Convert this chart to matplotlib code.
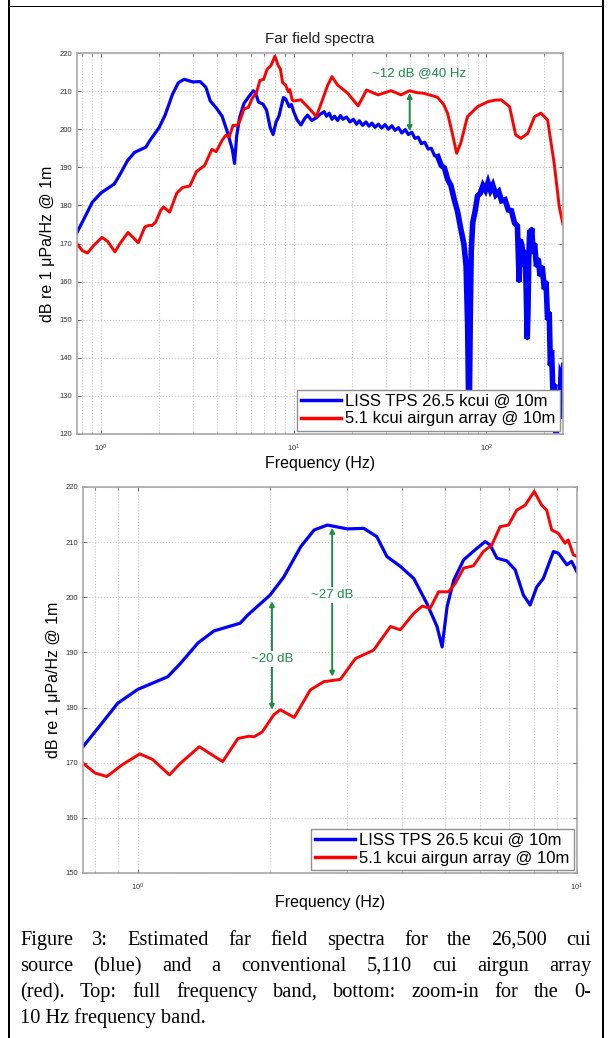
import matplotlib

matplotlib.use("Agg")
import matplotlib.pyplot as plt
from matplotlib.patches import Rectangle
from matplotlib.ticker import LogLocator, LogFormatterSciNotation, NullFormatter, FixedLocator

# spectra (Hz, dB re 1 uPa/Hz @ 1m)
blue_freq = [
    0.75, 0.81, 0.9, 1.0, 1.07, 1.17, 1.25, 1.37, 1.49, 1.63, 1.71, 1.78,
    2.0, 2.15, 2.35, 2.52, 2.7, 3.0, 3.27, 3.5, 3.69, 3.96, 4.25, 4.55,
    4.8, 4.93, 5.06, 5.24, 5.52, 5.92, 6.18, 6.34, 6.57, 6.92, 7.23, 7.55,
    7.82, 8.1, 8.38, 8.84, 9.07, 9.48, 9.72, 10.0,
    10.4, 10.9, 11.4, 11.8, 12.4, 13.1, 13.7, 14.4, 14.8, 15.3, 15.8, 16.3,
    16.9, 17.5, 18.0, 18.8, 19.6, 20.4, 21.2, 21.9, 22.8, 23.7, 24.6, 25.5,
    26.4, 27.5, 28.6, 29.8, 31.0, 32.3, 33.6, 35.0, 36.4, 37.9, 39.4, 41.0,
    42.6, 44.3, 46.0, 47.9, 49.8, 51.8, 53.9, 56.0, 58.3, 60.6, 63.0, 65.5,
    68.1, 70.8, 73.6, 76.5, 78.5, 80.0, 80.8, 81.2, 81.8, 82.6, 83.5, 85.0,
    87.5, 90.0, 93.0, 96.0, 99.0, 102.0, 105.0, 108.0, 112.0, 116.0, 120.0,
    125.0, 130.0, 135.0, 140.0, 145.0, 148.0, 150.0, 153.0, 157.0, 159.0,
    161.0, 163.0, 164.5, 166.0, 168.0, 170.0, 172.0, 175.0, 178.0, 182.0,
    186.0, 190.0, 195.0, 200.0, 204.0, 208.0, 212.0, 215.0, 218.0, 222.0,
    226.0, 230.0, 236.0, 240.0, 244.0, 248.0, 252.0,
]
blue_db = [
    172.9, 176.2, 180.8, 183.3, 184.3, 185.6, 188.0, 191.7, 193.9, 194.8, 195.3, 196.8,
    200.4, 203.7, 209.2, 212.2, 213.1, 212.4, 212.5, 211.0, 207.4, 205.6, 203.4, 198.9,
    194.7, 191.0, 198.3, 203.1, 206.8, 208.9, 210.1, 209.5, 207.1, 206.6, 205.0, 200.4,
    198.6, 201.9, 203.4, 208.3, 208.0, 205.9, 206.5, 204.6,
    202.5, 201.1, 202.8, 203.7, 202.3, 203.0, 203.9, 204.6, 203.4, 204.2, 202.6, 203.4,
    202.3, 203.6, 202.6, 203.2, 201.9, 202.6, 201.3, 202.2, 201.0, 201.9, 200.8, 201.6,
    200.5, 201.3, 200.3, 201.2, 200.0, 200.9, 199.7, 200.4, 199.0, 199.9, 198.6, 199.2,
    197.6, 197.9, 196.2, 196.6, 194.8, 195.0, 193.0, 192.8, 190.5, 189.8, 186.8, 185.2,
    181.6, 178.5, 174.0, 169.8, 164.0, 148.0, 130.0, 122.0, 132.0, 152.0, 168.0, 175.5,
    178.6, 182.5, 183.2, 185.2, 184.0, 186.0, 184.0, 185.3, 182.8, 183.6, 181.2,
    181.5, 178.8, 178.6, 175.4, 174.6, 160.0, 171.0, 169.5, 164.0, 168.0,
    158.0, 145.0, 152.0, 166.0, 173.5, 171.0, 174.0, 167.5, 170.0, 164.0,
    166.0, 161.5, 164.0, 158.0, 160.0, 150.0, 152.0, 138.0, 142.0, 130.0,
    133.0, 119.0, 128.0, 124.0, 135.0, 134.0, 138.0,
]

red_freq = [
    0.75, 0.8, 0.85, 0.92, 1.01, 1.08, 1.18, 1.25, 1.38, 1.56, 1.69, 1.79,
    1.84, 1.92, 2.04, 2.11, 2.27, 2.47, 2.65, 2.89, 3.13, 3.44, 3.76, 3.96,
    4.25, 4.44, 4.63, 4.84, 5.1, 5.28, 5.52, 5.81, 6.12, 6.4, 6.68, 6.98,
    7.29, 7.62, 7.99, 8.31, 8.53, 8.76, 9.07, 9.39, 9.55, 9.81, 10.0,
    10.9, 11.8, 12.5, 13.1, 14.1, 15.0, 15.8, 16.9, 19.1, 21.6, 23.9, 27.4,
    32.0, 36.1, 39.9, 43.5, 47.6, 55.7, 60.0, 62.9, 66.6, 70.1, 73.6, 79.8,
    89.9, 101.7, 110.0, 119.5, 132.0, 142.0, 151.0, 164.0, 178.0, 192.0,
    208.0, 225.0, 239.0, 250.0,
]
red_db = [
    169.9, 168.1, 167.5, 169.6, 171.6, 170.6, 167.8, 169.9, 172.9, 170.2, 174.4, 174.8,
    174.7, 175.6, 178.7, 179.6, 178.2, 183.2, 184.7, 185.1, 188.9, 190.4, 194.7, 194.1,
    197.1, 198.4, 198.0, 201.0, 201.0, 202.5, 205.3, 205.7, 208.3, 209.5, 212.8, 213.1,
    215.8, 216.7, 219.2, 216.7, 215.8, 212.2, 211.6, 209.8, 210.4, 207.7, 207.4,
    207.7, 205.9, 204.5, 203.3, 207.7, 211.5, 213.8, 211.6, 209.4, 206.1, 210.3, 209.0,
    210.1, 209.0, 210.1, 209.6, 209.4, 208.4, 206.5, 204.2, 198.9, 193.7, 196.3, 203.3,
    205.9, 207.2, 207.6, 207.7, 205.9, 198.5, 197.6, 198.9, 203.3, 204.2,
    202.4, 191.0, 179.7, 175.0,
]

series_labels = ["LISS TPS 26.5 kcui @ 10m", "5.1 kcui airgun array @ 10m"]

# (freq, top dB, bottom dB, text dB, label)
top_arrows = [(40.0, 209.5, 199.5, None, "~12 dB @40 Hz")]
bottom_arrows = [
    (2.02, 199.3, 179.6, 188.8, "~20 dB"),
    (2.77, 212.6, 185.6, 200.4, "~27 dB"),
]

caption_lines = [
    "Figure 3: Estimated far field spectra for the 26,500 cui",
    "source (blue) and a conventional 5,110 cui airgun array",
    "(red). Top: full frequency band, bottom: zoom-in for the 0-",
    "10 Hz frequency band.",
]

GREEN = "#1f8c48"
W, H = 610, 1038

plt.rcParams["font.family"] = ["Liberation Sans", "DejaVu Sans"]


def style_axes(ax, xlim, ylim, yticks):
    ax.set_xscale("log")
    ax.set_xlim(*xlim)
    ax.set_ylim(*ylim)
    ax.yaxis.set_major_locator(FixedLocator(yticks))
    ax.xaxis.set_major_locator(LogLocator(base=10))
    ax.xaxis.set_major_formatter(LogFormatterSciNotation())
    ax.xaxis.set_minor_locator(LogLocator(base=10, subs=range(2, 10)))
    ax.xaxis.set_minor_formatter(NullFormatter())
    ax.tick_params(which="both", direction="in", top=True, right=True,
                   colors="#555555", labelcolor="#333333", labelsize=5.5)
    ax.tick_params(which="major", length=3, width=0.6)
    ax.tick_params(which="minor", length=1.8, width=0.5)
    ax.tick_params(axis="x", pad=6)
    for s in ax.spines.values():
        s.set_color("#a8a8a8")
        s.set_linewidth(1.2)
    ax.grid(True, which="major", axis="both", color="#c4c4c4", linestyle=":", linewidth=0.8)
    ax.grid(True, which="minor", axis="x", color="#c4c4c4", linestyle=":", linewidth=0.8)
    ax.set_xlabel("Frequency (Hz)", fontsize=11.5, labelpad=2)
    ax.set_ylabel("dB re 1 μPa/Hz @ 1m", fontsize=11.5, labelpad=3)


def draw_spectra(ax, noisy_from=None):
    ax.plot(blue_freq, blue_db, color="#0000ff", lw=2.3, label=series_labels[0])
    if noisy_from is not None:
        # the high-frequency part of the blue trace is a thick noisy band
        idx = [i for i, f in enumerate(blue_freq) if f >= noisy_from]
        ax.plot([blue_freq[i] for i in idx], [blue_db[i] for i in idx],
                color="#0000ff", lw=4.0, solid_joinstyle="miter")
    ax.plot(red_freq, red_db, color="#ff0000", lw=2.1, label=series_labels[1])
    leg = ax.legend(loc="lower right", fontsize=12, fancybox=False, framealpha=1,
                    edgecolor="#909090", borderaxespad=0.2, handlelength=2.4,
                    handletextpad=0.25, borderpad=0.25, labelspacing=0.15)
    leg.get_frame().set_linewidth(1.0)
    for line in leg.get_lines():
        line.set_linewidth(2.5)


def draw_arrows(ax, arrows, fs):
    for f, y0, y1, ytxt, label in arrows:
        ax.annotate("", xy=(f, y0), xytext=(f, y1),
                    arrowprops=dict(arrowstyle="<|-|>", color=GREEN, lw=1.4,
                                    mutation_scale=7, shrinkA=0, shrinkB=0))
        if ytxt is not None:
            ax.text(f, ytxt, label, color=GREEN, fontsize=fs, ha="center", va="center",
                    bbox=dict(facecolor="white", edgecolor="none", pad=1.5))


fig = plt.figure(figsize=(W / 100, H / 100), dpi=100)

ax1 = fig.add_axes([77 / W, 1 - 434 / H, 486 / W, 381 / H])
style_axes(ax1, (0.75, 250), (120, 220), list(range(120, 221, 10)))
draw_spectra(ax1, noisy_from=55)
draw_arrows(ax1, top_arrows, 9)
ax1.text(45, 214.8, top_arrows[0][4], color=GREEN, fontsize=9.5, ha="center", va="center")
ax1.set_title("Far field spectra", fontsize=11, pad=7, color="#222222")

ax2 = fig.add_axes([83 / W, 1 - 873 / H, 494 / W, 386 / H])
style_axes(ax2, (0.75, 10), (150, 220), list(range(150, 221, 10)))
draw_spectra(ax2)
draw_arrows(ax2, bottom_arrows, 9.5)

# page border
for xy, w, h in [((8 / W, 0), 1.5 / W, 1), ((602 / W, 0), 1.5 / W, 1),
                 ((8 / W, 1 - 7 / H), 595.5 / W, 1.5 / H)]:
    fig.patches.append(Rectangle(xy, w, h, transform=fig.transFigure,
                                 facecolor="black", edgecolor="none"))

# justified caption
renderer = fig.canvas.get_renderer()
cap_kw = dict(fontsize=14.7, family=["Liberation Serif", "DejaVu Serif"], va="baseline")
x_left, x_right = 20, 591
baselines = [945, 971, 997, 1023]
for i, line in enumerate(caption_lines):
    yb = 1 - baselines[i] / H
    if i == len(caption_lines) - 1:
        fig.text(x_left / W, yb, line, **cap_kw)
        continue
    words = line.split(" ")
    widths = []
    for w in words:
        t = fig.text(0, 0, w, **cap_kw)
        widths.append(t.get_window_extent(renderer).width)
        t.remove()
    gap = (x_right - x_left - sum(widths)) / (len(words) - 1)
    x = x_left
    for w, wd in zip(words, widths):
        fig.text(x / W, yb, w, **cap_kw)
        x += wd + gap

fig.savefig("out.png", dpi=100)
